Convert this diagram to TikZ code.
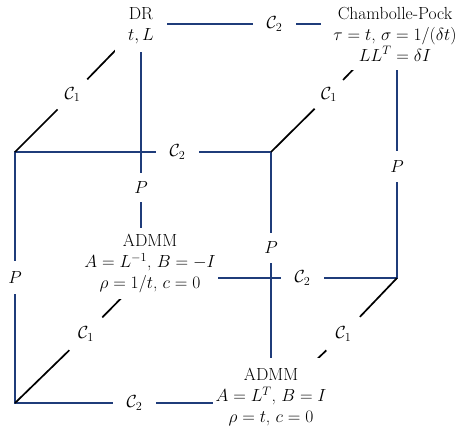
\RequirePackage{fix-cm}
\documentclass[tikz,border=0pt]{standalone}
\usepackage{fontspec}
\usetikzlibrary{calc}
\definecolor{edgeblue}{HTML}{1F3C7A}
\begin{document}
\begin{tikzpicture}[x=1pt,y=-1pt,
  every node/.style={font=\fontsize{17.5}{21}\selectfont},
  blueedge/.style={draw=edgeblue,line width=1.9pt,line cap=rect},
  diagedge/.style={draw=black,line width=1.7pt},
  gaplabel/.style={circle,inner sep=0pt},
  textbox/.style={align=center,fill=white,inner sep=0pt,rectangle}]
\useasboundingbox (0,0) rectangle (460,429);
% cube corners
\coordinate (ftl) at (15,152);
\coordinate (ftr) at (271,152);
\coordinate (fbl) at (15,403);
\coordinate (fbr) at (271,403);
\coordinate (btl) at (141,24);
\coordinate (btr) at (397,24);
\coordinate (bbl) at (141,278);
\coordinate (bbr) at (397,278);
% gap labels
\node[gaplabel,minimum size=45pt] (c2f) at (177.5,152) {$\mathcal{C}_2$};
\node[gaplabel,minimum size=45pt] (c2t) at (274.5,24) {$\mathcal{C}_2$};
\node[gaplabel,minimum size=45pt] (c2b) at (134.5,403) {$\mathcal{C}_2$};
\node[gaplabel,minimum size=45pt] (c2m) at (302.5,278) {$\mathcal{C}_2$};
\node[gaplabel,minimum size=35pt] (pfl) at (15,277.5) {$P$};
\node[gaplabel,minimum size=32pt] (pfr) at (271,248) {$P$};
\node[gaplabel,minimum size=31pt] (pbl) at (141,187.5) {$P$};
\node[gaplabel,minimum size=33pt] (pbr) at (397,166.5) {$P$};
\node[gaplabel,minimum size=42pt] (c1a) at (72.5,94.5) {$\mathcal{C}_1$};
\node[gaplabel,minimum size=40pt] (c1b) at (329,94.5) {$\mathcal{C}_1$};
\node[gaplabel,minimum size=46pt] (c1c) at (86,334) {$\mathcal{C}_1$};
\node[gaplabel,minimum size=47pt] (c1d) at (343.5,334) {$\mathcal{C}_1$};
% blue edges
\draw[blueedge] (ftl) -- (c2f) -- (ftr);
\draw[blueedge] (btl) -- (c2t) -- (btr);
\draw[blueedge] (fbl) -- (c2b) -- (fbr);
\draw[blueedge] (bbl) -- (c2m) -- (bbr);
\draw[blueedge] (ftl) -- (pfl) -- (fbl);
\draw[blueedge] (ftr) -- (pfr) -- (fbr);
\draw[blueedge] (btl) -- (pbl) -- (bbl);
\draw[blueedge] (btr) -- (pbr) -- (bbr);
% black diagonals
\draw[diagedge] (ftl) -- (c1a) -- (btl);
\draw[diagedge] (ftr) -- (c1b) -- (btr);
\draw[diagedge] (fbl) -- (c1c) -- (bbl);
\draw[diagedge] (fbr) -- (c1d) -- (bbr);
% method nodes
\node[textbox,minimum width=52pt,minimum height=52pt] (dr) at (141,26) {DR\\$t, L$};
\node[textbox,minimum width=148pt,minimum height=72pt] (cp) at (395,34) {Chambolle-Pock\\$\tau = t$, $\sigma = 1/(\delta t)$\\$LL^T = \delta I$};
\node[textbox,minimum width=136pt,minimum height=71pt] (admmA) at (150,263.5) {ADMM\\$A = L^{-1}$, $B = -I$\\$\rho = 1/t$, $c = 0$};
\node[textbox,minimum width=116pt,minimum height=78pt] (admmB) at (271,397) {ADMM\\$A = L^T$, $B = I$\\$\rho = t$, $c = 0$};
\end{tikzpicture}
\end{document}
